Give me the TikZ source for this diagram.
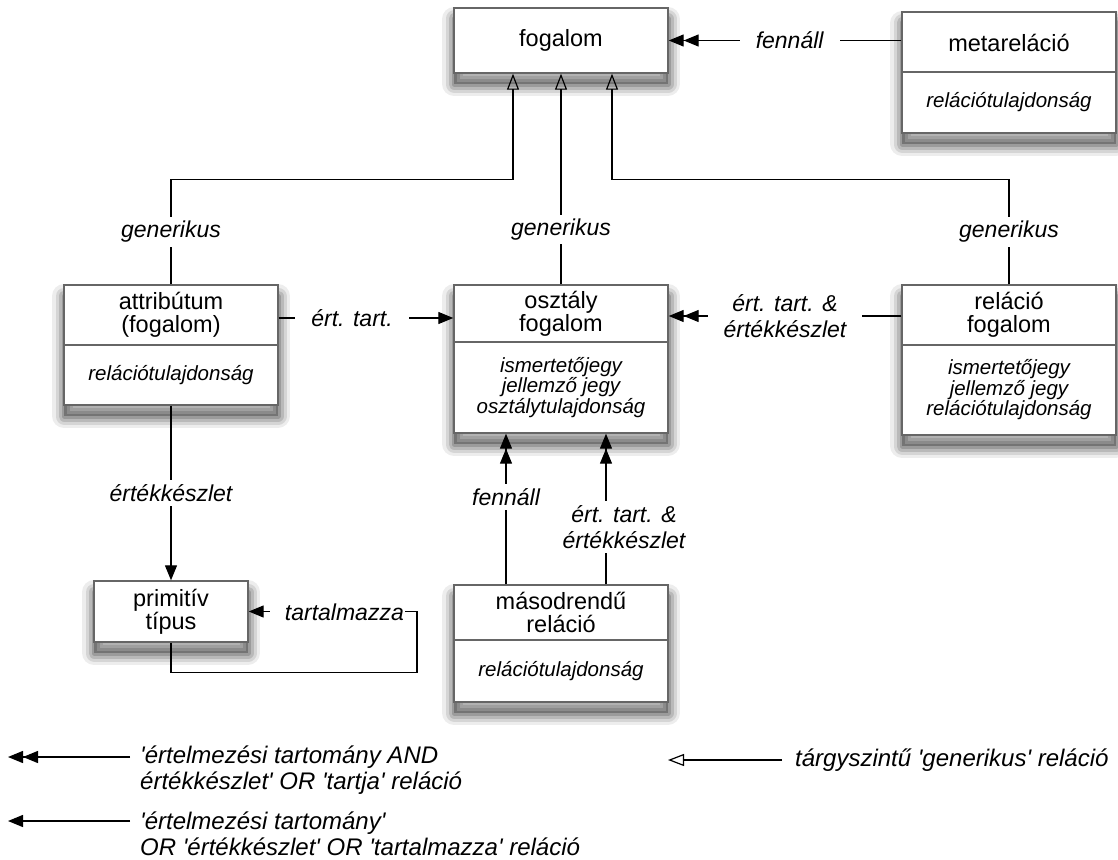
\documentclass[tikz,border=0pt]{standalone}
\usepackage{fontspec}
\setmainfont{Liberation Sans}
\usetikzlibrary{arrows.meta}

\begin{document}
\begin{tikzpicture}[x=1pt,y=1pt]
\tikzstyle{umlbox}=[draw=black!60, line width=1.4pt, fill=white, inner sep=0pt,
  preaction={draw=black, line width=24pt, line join=round, opacity=0.07, transform canvas={yshift=-11pt}},
  preaction={draw=black, line width=17pt, line join=round, opacity=0.10, transform canvas={yshift=-11pt}},
  preaction={draw=black, line width=11pt, line join=round, opacity=0.13, transform canvas={yshift=-11pt}},
  preaction={draw=black, line width=5pt, line join=round, opacity=0.16, transform canvas={yshift=-11pt}},
  preaction={fill=black, opacity=0.25, transform canvas={yshift=-11pt}}]
\tikzstyle{boxtitle}=[align=center, inner sep=0pt, font=\fontsize{23.5}{23}\selectfont]
\tikzstyle{boxattr}=[align=center, inner sep=0pt, font=\itshape\fontsize{20.5}{20.5}\selectfont]
\tikzstyle{splitline}=[draw=black!60, line width=1.2pt]
\tikzstyle{conn}=[line width=1.3pt]
\tikzstyle{gen}=[conn, -{Triangle[open, length=16pt, width=12pt, line width=1.2pt]}]
\tikzstyle{sgl}=[conn, -{Triangle[length=15pt, width=12pt]}]
\tikzstyle{dbl}=[conn, -{Triangle[length=15pt, width=12pt, sep=0pt]Triangle[length=15pt, width=12pt]}]
\tikzstyle{rellabel}=[fill=white, inner xsep=16pt, inner ysep=4pt, align=center, font=\itshape\fontsize{23}{26}\selectfont]
\tikzstyle{legend}=[anchor=west, align=left, inner sep=0pt, font=\itshape\fontsize{24}{26}\selectfont]
\useasboundingbox (0,0) rectangle (1118,-859);
\node [umlbox, boxtitle, minimum width=214pt, minimum height=65pt] (fog) at (561,-40.5) {fogalom};
\node [umlbox, minimum width=214pt, minimum height=121pt] (meta) at (1009,-72.5) {};
\node [boxtitle] (metaT) at (1009,-42.5) {metareláció};
\draw [splitline] (902,-72) -- (1116,-72);
\node [boxattr] (metaA) at (1009,-102.5) {relációtulajdonság};
\node [umlbox, minimum width=214pt, minimum height=120pt] (attr) at (171,-345) {};
\node [boxtitle] (attrT) at (171,-315) {attribútum\\(fogalom)};
\draw [splitline] (64,-345) -- (278,-345);
\node [boxattr] (attrA) at (171,-375) {relációtulajdonság};
\node [umlbox, minimum width=214pt, minimum height=148pt] (oszt) at (561,-359) {};
\node [boxtitle] (osztT) at (561,-313.5) {osztály\\fogalom};
\draw [splitline] (454,-342) -- (668,-342);
\node [boxattr] (osztA) at (561,-387.5) {ismertetőjegy\\jellemző jegy\\osztálytulajdonság};
\node [umlbox, minimum width=214pt, minimum height=150pt] (rel) at (1009,-360) {};
\node [boxtitle] (relT) at (1009,-315) {reláció\\fogalom};
\draw [splitline] (902,-345) -- (1116,-345);
\node [boxattr] (relA) at (1009,-390) {ismertetőjegy\\jellemző jegy\\relációtulajdonság};
\node [umlbox, boxtitle, minimum width=154pt, minimum height=61pt] (prim) at (171,-611.5) {primitív\\típus};
\node [umlbox, minimum width=214pt, minimum height=117pt] (masod) at (561,-643.5) {};
\node [boxtitle] (masodT) at (561,-612.5) {másodrendű\\reláció};
\draw [splitline] (454,-640) -- (668,-640);
\node [boxattr] (masodA) at (561,-671) {relációtulajdonság};
\draw [dbl] (meta.west |- fog.east) -- (fog.east) node [rellabel, pos=0.48] {fennáll};
\draw [gen] (attr.north) -- node [rellabel] {generikus} ++(0,105) -| ([xshift=-48pt]fog.south);
\draw [gen] (oszt.north) -- node [rellabel, pos=0.26] {generikus} (fog.south);
\draw [gen] (rel.north) -- node [rellabel] {generikus} ++(0,105) -| ([xshift=51pt]fog.south);
\draw [sgl] (attr.east |- 0,-318) -- (oszt.west |- 0,-318) node [rellabel, pos=0.42] {ért. tart.};
\draw [dbl] (rel.west |- 0,-316) -- (oszt.east |- 0,-316) node [rellabel, pos=0.5] {ért. tart. \&\\értékkészlet};
\draw [sgl] (attr.south) -- (prim.north) node [rellabel, pos=0.5] {értékkészlet};
\draw [dbl] (masod.north -| 506,0) -- (oszt.south -| 506,0) node [rellabel, pos=0.58] {fennáll};
\draw [dbl] (masod.north -| 606,0) -- (oszt.south -| 606,0) node [rellabel, pos=0.38, xshift=18pt] {ért. tart. \&\\értékkészlet};
\draw [sgl] (prim.south) -- ++(0,-30) -- ++(246,0) |- (prim.east);
\node [rellabel, inner xsep=1pt, text width=133pt, align=right, anchor=east] (tart) at (405,-612) {tartalmazza};
\coordinate (k1) at (8,-757);
\coordinate (k1e) at (130,-757);
\draw [dbl] (k1e) -- (k1);
\node [legend] (l1) at (140,-770) {\textquotesingle értelmezési tartomány AND\\értékkészlet\textquotesingle{} OR \textquotesingle tartja\textquotesingle{} reláció};
\coordinate (k2) at (8,-821);
\coordinate (k2e) at (130,-821);
\draw [sgl] (k2e) -- (k2);
\node [legend] (l2) at (140,-834) {\textquotesingle értelmezési tartomány\textquotesingle\\OR \textquotesingle értékkészlet\textquotesingle{} OR \textquotesingle tartalmazza\textquotesingle{} reláció};
\coordinate (k3) at (668,-760);
\coordinate (k3e) at (782,-760);
\draw [gen] (k3e) -- (k3);
\node [legend] (l3) at (795,-760) {tárgyszintű \textquotesingle generikus\textquotesingle{} reláció};
\end{tikzpicture}
\end{document}
